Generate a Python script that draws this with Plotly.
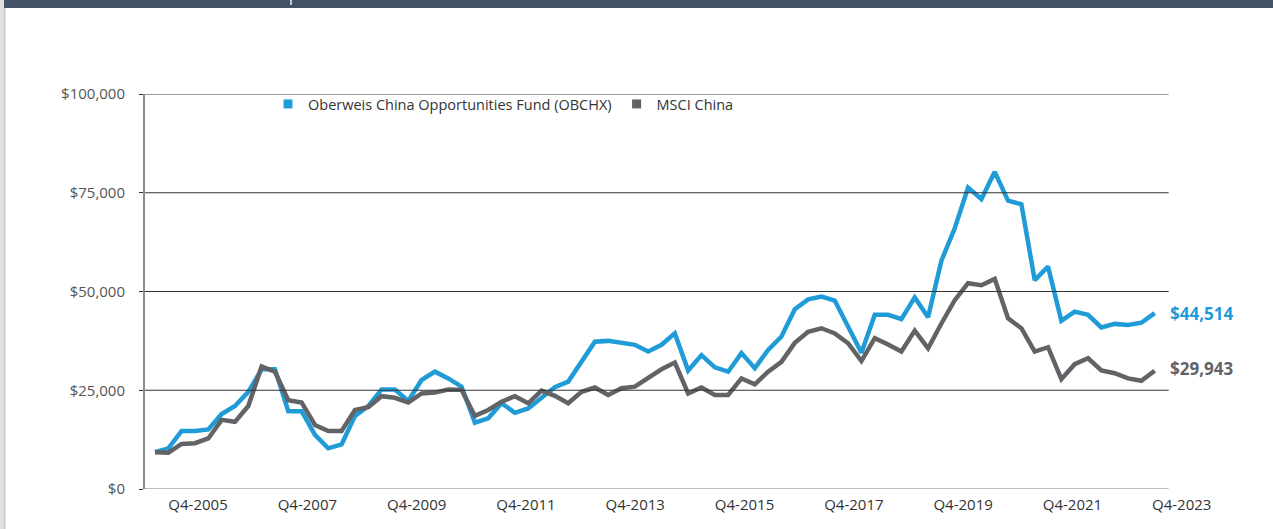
import plotly.graph_objects as go

# ---- data (quarterly growth of $10,000) ----
fund_name = "Oberweis China Opportunities Fund (OBCHX)"
index_name = "MSCI China"

fund_values = [9300, 10300, 14700, 14700, 15100, 19000, 21000, 24600, 30300, 30300,
               19700, 19700, 13700, 10300, 11300, 18500, 21000, 25200, 25200, 22300,
               27600, 29700, 28000, 25900, 16800, 17900, 21700, 19300, 20400, 23000,
               25800, 27200, 32200, 37300, 37500, 37100, 36500, 34800, 36500, 39400,
               30000, 33900, 30800, 29700, 34400, 30600, 35200, 38600, 45500, 48000,
               48700, 47700, 41100, 34500, 44100, 44100, 43000, 48500, 43500, 57800,
               66000, 76300, 73400, 80300, 73000, 72100, 52900, 56300, 42600, 44900,
               44100, 40900, 41800, 41500, 42100, 44514]

index_values = [9300, 9200, 11400, 11600, 12800, 17500, 17000, 21000, 31000, 29700,
                22500, 21900, 16200, 14700, 14700, 20000, 20700, 23500, 23100, 21900,
                24200, 24400, 25200, 25100, 18500, 20000, 22100, 23500, 21700, 24900,
                23600, 21700, 24600, 25700, 23800, 25500, 25900, 28000, 30300, 32000,
                24200, 25700, 23800, 23800, 28000, 26500, 29700, 32200, 37000, 39800,
                40700, 39400, 36900, 32400, 38200, 36600, 34800, 40100, 35600, 41900,
                47800, 52100, 51600, 53200, 43200, 40700, 34800, 35900, 27800, 31600,
                33100, 30000, 29300, 28000, 27400, 29943]

x_tick_labels = ["Q4-2005", "Q4-2007", "Q4-2009", "Q4-2011", "Q4-2013",
                 "Q4-2015", "Q4-2017", "Q4-2019", "Q4-2021", "Q4-2023"]
y_tick_values = [0, 25000, 50000, 75000, 100000]
y_tick_labels = ["$0", "$25,000", "$50,000", "$75,000", "$100,000"]

# ---- styles ----
BLUE = "#1f9bd7"
GREY = "#626366"
FONT = "'Open Sans', Lato, sans-serif"

W, H = 1273, 529
L, R, T, B = 145, 1184, 94, 489   # plot area in pixels

def px_x(px):
    return (px - L) / (R - L)

def px_y(py):
    return (B - py) / (B - T)

n = len(fund_values)
x_idx = list(range(n))
tick_pos = [3.23 + 8.2 * k for k in range(len(x_tick_labels))]

fig = go.Figure()
fig.add_trace(go.Scatter(x=x_idx, y=fund_values, mode="lines", name=fund_name,
                         line=dict(color=BLUE, width=4.5), showlegend=False))
fig.add_trace(go.Scatter(x=x_idx, y=index_values, mode="lines", name=index_name,
                         line=dict(color=GREY, width=4.5), showlegend=False))
# legend entries with square symbols
fig.add_trace(go.Scatter(x=[None], y=[None], mode="markers", name=fund_name,
                         marker=dict(symbol="square", size=9, color=BLUE)))
fig.add_trace(go.Scatter(x=[None], y=[None], mode="markers", name=index_name,
                         marker=dict(symbol="square", size=9, color=GREY)))

shapes = []
# horizontal gridlines (end before right margin)
for v in y_tick_values:
    shapes.append(dict(type="line", xref="x", yref="y", x0=-0.75, x1=n - 1 + 1.05,
                       y0=v, y1=v,
                       line=dict(color="#7a7a7a" if v == 0 else "#333333", width=1.2)))
# page decoration: top bar and left strip
shapes.append(dict(type="rect", xref="paper", yref="paper", x0=px_x(4), x1=px_x(W),
                   y0=px_y(8), y1=px_y(0), fillcolor="#445365", line=dict(width=0),
                   layer="above"))
shapes.append(dict(type="rect", xref="paper", yref="paper", x0=px_x(0), x1=px_x(4),
                   y0=px_y(H), y1=px_y(0), fillcolor="#e1e0de", line=dict(width=0),
                   layer="above"))
shapes.append(dict(type="rect", xref="paper", yref="paper", x0=px_x(4), x1=px_x(5.5),
                   y0=px_y(H), y1=px_y(8), fillcolor="#c8c8c8", line=dict(width=0),
                   layer="above"))
shapes.append(dict(type="rect", xref="paper", yref="paper", x0=px_x(290), x1=px_x(292),
                   y0=px_y(5), y1=px_y(0), fillcolor="#c9c9c9", line=dict(width=0),
                   layer="above"))

annotations = [
    dict(x=n - 1, y=fund_values[-1], xref="x", yref="y", text="<b>$44,514</b>",
         showarrow=False, xanchor="left", yanchor="middle", xshift=13,
         font=dict(family=FONT, size=17, color=BLUE)),
    dict(x=n - 1, y=index_values[-1], xref="x", yref="y", text="<b>$29,943</b>",
         showarrow=False, xanchor="left", yanchor="middle", xshift=13, yshift=2,
         font=dict(family=FONT, size=17, color=GREY)),
]

fig.update_layout(
    width=W, height=H,
    margin=dict(l=L, r=W - R, t=T, b=H - B, pad=0),
    paper_bgcolor="white", plot_bgcolor="white",
    font=dict(family=FONT, size=14.5, color="#333333"),
    shapes=shapes, annotations=annotations,
    legend=dict(orientation="h", x=px_x(268), y=px_y(88), xanchor="left", yanchor="top",
                font=dict(family=FONT, size=14.5, color="#333333"),
                bgcolor="rgba(0,0,0,0)", itemclick=False),
    xaxis=dict(range=[-0.75, 77.2], showgrid=False, zeroline=False, showline=False,
               tickmode="array", tickvals=tick_pos, ticktext=x_tick_labels,
               ticks="", ticklabelstandoff=5,
               tickfont=dict(family=FONT, size=15, color="#333333"), fixedrange=True),
    yaxis=dict(range=[0, 100000], showgrid=False, zeroline=False,
               showline=True, linecolor="#8c8c8c", linewidth=2,
               tickmode="array", tickvals=y_tick_values, ticktext=y_tick_labels,
               ticks="outside", ticklen=4, tickcolor="#333333", tickwidth=1,
               ticklabelstandoff=11,
               tickfont=dict(family=FONT, size=15, color="#555555"), fixedrange=True),
    showlegend=True,
)

fig.write_html("out.html", config={"displayModeBar": False, "staticPlot": True},
               post_script="document.body.style.margin='0';document.body.style.overflow='hidden';")
